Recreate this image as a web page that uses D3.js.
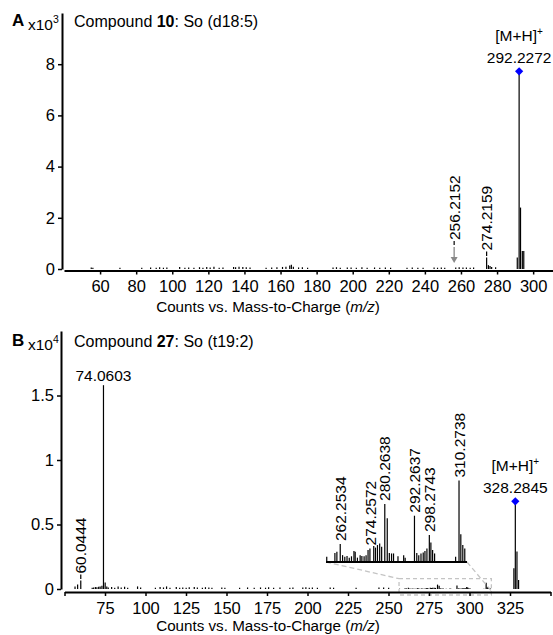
<!DOCTYPE html>
<html>
<head>
<meta charset="utf-8">
<title>MS/MS spectra</title>
<script src="https://cdn.jsdelivr.net/npm/d3@7"></script>
<style>
  body { margin: 0; background: #fff; }
  svg text { font-family: Arial, "Liberation Sans", sans-serif; fill: #000; }
</style>
</head>
<body>
<svg id="chart" width="553" height="635"></svg>
<script>
// ---------- panel A : compound 10, counts x10^3 ----------
var ticksXA = [60, 80, 100, 120, 140, 160, 180, 200, 220, 240, 260, 280, 300];
var ticksYA = [0, 2, 4, 6, 8];
// [m/z, counts x10^3]
var peaksA = [
  [55.1, 0.06], [56.0, 0.05], [71.0, 0.05], [83.1, 0.05], [88.0, 0.06], [91.1, 0.05], [93.0, 0.07], [95.1, 0.05], [97.0, 0.06],
  [104.1, 0.08], [107.0, 0.05], [109.1, 0.06], [112.0, 0.05], [115.1, 0.07], [117.0, 0.05], [119.1, 0.08], [121.0, 0.06], [123.1, 0.09], [126.0, 0.05], [128.1, 0.06],
  [134.0, 0.08], [135.1, 0.07], [137.0, 0.09], [139.1, 0.08], [141.0, 0.07], [143.1, 0.06],
  [152.0, 0.05], [155.1, 0.06], [158.0, 0.07], [161.1, 0.08], [163.0, 0.09], [165.1, 0.14], [166.0, 0.17], [167.1, 0.09], [170.0, 0.06], [172.1, 0.07], [175.0, 0.05],
  [189.1, 0.06], [191.0, 0.07], [193.1, 0.05], [197.0, 0.06], [199.1, 0.06], [202.0, 0.05], [205.1, 0.07], [208.0, 0.05], [212.1, 0.06], [215.0, 0.05], [218.1, 0.06], [221.0, 0.05],
  [230.1, 0.05], [233.0, 0.06], [236.1, 0.05], [239.0, 0.05], [245.1, 0.06], [247.0, 0.05], [249.1, 0.06], [251.0, 0.05],
  [257.1, 0.06], [259.0, 0.07], [261.1, 0.06], [263.0, 0.06], [265.1, 0.05], [267.0, 0.06],
  [274.2159, 0.45], [275.2, 0.15], [276.1, 0.12], [277.0, 0.08], [279.2, 0.07],
  [291.2, 0.45], [292.2272, 7.72], [293.0, 2.4], [294.0, 0.7], [294.8, 0.7]
];
var precursorA = { mz: 292.2272, text: "292.2272" };
var fragLabelsA = [{ mz: 274.2159, text: "274.2159" }];
var arrowLabelsA = [{ mz: 256.2152, text: "256.2152" }];

// ---------- panel B : compound 27, counts x10^4 ----------
var ticksXB = [50, 75, 100, 125, 150, 175, 200, 225, 250, 275, 300, 325, 350];
var tickTextXB = ["", "75", "100", "125", "150", "175", "200", "225", "250", "275", "300", "325", ""];
var ticksYB = [0, 0.5, 1, 1.5];
var tickTextYB = ["0", "0.5", "1", "1.5"];
var peaksB = [
  [56.5, 0.02], [58.1, 0.035], [60.0444, 0.065],
  [67.1, 0.01], [68.0, 0.012], [69.1, 0.015], [70.0, 0.013], [71.1, 0.018], [72.0, 0.02], [73.1, 0.025], [74.0603, 1.58], [75.1, 0.05],
  [76.1, 0.02], [77.0, 0.012], [79.1, 0.015], [81.0, 0.01], [83.1, 0.02], [85.0, 0.012], [87.1, 0.018], [89.0, 0.01],
  [95.1, 0.02], [97.0, 0.012], [106.1, 0.01], [109.0, 0.015], [111.1, 0.012], [113.0, 0.02], [115.1, 0.01],
  [119.0, 0.015], [121.1, 0.01], [123.0, 0.012], [125.1, 0.01], [127.0, 0.013], [130.1, 0.015], [132.0, 0.012],
  [135.1, 0.01], [137.0, 0.014], [139.1, 0.012], [141.0, 0.01], [147.1, 0.012], [149.0, 0.01],
  [158.1, 0.01], [163.0, 0.012], [167.1, 0.01], [171.0, 0.012], [174.1, 0.01], [176.0, 0.013], [179.1, 0.01], [183.0, 0.012],
  [189.1, 0.01], [191.0, 0.012], [197.1, 0.011], [199.0, 0.013], [201.1, 0.01], [203.0, 0.012], [206.1, 0.01],
  [214.0, 0.012], [216.1, 0.01], [230.0, 0.01], [244.1, 0.011], [247.0, 0.012], [250.1, 0.01],
  [327.4, 0.16], [328.2845, 0.68], [329.3, 0.29], [330.3, 0.07]
];
// 256.5-313.5 window, drawn in the plot and magnified in the inset
var zoomDomainB = [256.5, 313.5];
var zoomPeaksB = [
  [256.8, 0.0025], [260.1, 0.0048], [260.9, 0.0055], [262.2534, 0.0101], [263.2, 0.0035], [264.1, 0.0025], [265.0, 0.003],
  [265.9, 0.002], [266.8, 0.0028], [267.8, 0.006], [268.3, 0.0055], [269.2, 0.002], [270.3, 0.0035], [271.0, 0.003],
  [271.9, 0.0028], [272.7, 0.0035], [273.5, 0.0065], [274.2572, 0.0075], [275.8, 0.009], [276.5, 0.008], [277.3, 0.0095],
  [278.2, 0.0105], [279.0, 0.0085], [280.2638, 0.034], [281.26, 0.0255], [282.1, 0.0048], [283.0, 0.0045], [283.8, 0.0045],
  [285.6, 0.0028], [287.9, 0.0035], [288.5, 0.002], [292.2637, 0.027], [293.2, 0.0048], [294.0, 0.0035], [294.9, 0.0045],
  [295.8, 0.005], [296.5, 0.006], [297.3, 0.0075], [298.2743, 0.0155], [298.9, 0.011], [299.6, 0.0065], [300.4, 0.0045],
  [308.9, 0.0025], [310.2738, 0.048], [311.0, 0.016], [311.8, 0.0095], [312.6, 0.0075]
];
var precursorB = { mz: 328.2845, text: "328.2845" };
var baseLabelsB = [{ mz: 74.0603, text: "74.0603" }];
var fragLabelsB = [{ mz: 60.0444, text: "60.0444" }];
var zoomLabelsB = [
  { mz: 262.2534, text: "262.2534" }, { mz: 274.2572, text: "274.2572" }, { mz: 280.2638, text: "280.2638" },
  { mz: 292.2637, text: "292.2637" }, { mz: 298.2743, text: "298.2743" }, { mz: 310.2738, text: "310.2738" }
];

var svg = d3.select("#chart");

function heightAt(peaks, mz) {
  var best = peaks[0];
  peaks.forEach(function(p) { if (Math.abs(p[0] - mz) < Math.abs(best[0] - mz)) best = p; });
  return best[1];
}

function styleAxis(g) {
  g.attr("font-size", 16.5).attr("font-family", null);
  g.select(".domain").attr("stroke-width", 2);
  g.selectAll(".tick line").attr("stroke-width", 1.5);
}

function drawBars(g, peaks, x, y) {
  g.selectAll(null).data(peaks).enter().append("line")
    .attr("x1", function(d) { return x(d[0]); })
    .attr("x2", function(d) { return x(d[0]); })
    .attr("y1", y(0))
    .attr("y2", function(d) { return y(d[1]); })
    .attr("stroke", "#000")
    .attr("stroke-width", 1.2);
}

function rotLabel(g, x, yBottom, text) {
  g.append("text")
    .attr("transform", "translate(" + x + "," + yBottom + ") rotate(-90)")
    .attr("dy", "0.36em")
    .attr("font-size", 15.5)
    .text(text);
}

function precursor(g, x, y, text) {
  g.append("path")
    .attr("d", d3.symbol(d3.symbolSquare, 34)())
    .attr("transform", "translate(" + x + "," + y + ") rotate(45)")
    .attr("fill", "#0000ff");
  g.append("text").attr("x", x).attr("y", y - 8).attr("text-anchor", "middle")
    .attr("font-size", 15.5).text(text);
  var t = g.append("text").attr("x", x).attr("y", y - 30).attr("text-anchor", "middle")
    .attr("font-size", 15.5).text("[M+H]");
  t.append("tspan").attr("font-size", 10).attr("dy", -6).text("+");
}

function header(g, letter, exp, yBase, num, rest) {
  g.append("text").attr("x", 12).attr("y", yBase - 1).attr("font-size", 17)
    .attr("font-weight", "bold").text(letter);
  var t = g.append("text").attr("x", 28).attr("y", yBase + 3).attr("font-size", 15.5).text("x10");
  t.append("tspan").attr("font-size", 10.5).attr("dy", -7).text(exp);
  var c = g.append("text").attr("x", 74).attr("y", yBase).attr("font-size", 16).text("Compound ");
  c.append("tspan").attr("font-weight", "bold").text(num);
  c.append("tspan").text(rest);
}

function xTitle(g, yBase) {
  var t = g.append("text").attr("x", 268).attr("y", yBase).attr("text-anchor", "middle")
    .attr("font-size", 15.2).text("Counts vs. Mass-to-Charge (");
  t.append("tspan").attr("font-style", "italic").text("m/z");
  t.append("tspan").text(")");
}

// ================= Panel A =================
var xA = d3.scaleLinear().domain([40, 311]).range([64, 553]);
var yA = d3.scaleLinear().domain([0, 10]).range([269, 13]);
var gA = svg.append("g");

drawBars(gA.append("g"), peaksA, xA, yA);

gA.append("g").attr("transform", "translate(0," + (yA(0) + 1.5) + ")")
  .call(d3.axisBottom(xA).tickValues(ticksXA).tickSize(4).tickSizeOuter(0).tickPadding(6))
  .call(styleAxis);
gA.append("g").attr("transform", "translate(62,0)")
  .call(d3.axisLeft(yA).tickValues(ticksYA).tickSize(4).tickSizeOuter(0).tickPadding(3))
  .call(styleAxis);

precursor(gA, xA(precursorA.mz), yA(heightAt(peaksA, precursorA.mz)), precursorA.text);

fragLabelsA.forEach(function(l) {
  var top = yA(heightAt(peaksA, l.mz));
  var x = xA(l.mz);
  gA.append("line").attr("x1", x).attr("x2", x).attr("y1", top - 1.5).attr("y2", top - 6)
    .attr("stroke", "#000").attr("stroke-width", 1.2);
  rotLabel(gA, x, top - 7, l.text);
});

arrowLabelsA.forEach(function(l) {
  var x = xA(l.mz), tip = yA(0) - 6, tail = yA(0) - 22;
  gA.append("line").attr("x1", x).attr("x2", x).attr("y1", tail).attr("y2", tip - 4)
    .attr("stroke", "#888").attr("stroke-width", 1.3);
  gA.append("path").attr("d", "M" + (x - 3.5) + "," + (tip - 6) + "L" + (x + 3.5) + "," + (tip - 6) + "L" + x + "," + tip + "Z")
    .attr("fill", "#888");
  gA.append("line").attr("x1", x).attr("x2", x).attr("y1", tail - 2).attr("y2", tail - 6)
    .attr("stroke", "#000").attr("stroke-width", 1.2);
  rotLabel(gA, x, tail - 7, l.text);
});

header(gA, "A", "3", 27, "10", ": So (d18:5)");
xTitle(gA, 312);

// ================= Panel B =================
var xB = d3.scaleLinear().domain([50, 350]).range([64.5, 550.5]);
var yB = d3.scaleLinear().domain([0, 2]).range([589, 331]);
var gB = svg.append("g");

drawBars(gB.append("g"), peaksB.concat(zoomPeaksB), xB, yB);

// zoom window marker in the plot
var zx0 = xB(zoomDomainB[0]), zx1 = xB(zoomDomainB[1]);
var zy0 = yB(0.08), zy1 = yB(0) + 6;
gB.append("rect").attr("x", zx0).attr("y", zy0).attr("width", zx1 - zx0).attr("height", zy1 - zy0)
  .attr("fill", "none").attr("stroke", "#c4c4c4").attr("stroke-width", 1.3).attr("stroke-dasharray", "4,3");

// inset
var xI = d3.scaleLinear().domain(zoomDomainB).range([326, 467]);
var yI = d3.scaleLinear().domain([0, 0.1]).range([561, 561 - 167.7]);
gB.append("line").attr("x1", xI.range()[0]).attr("x2", zx0).attr("y1", yI(0) + 1).attr("y2", zy0)
  .attr("stroke", "#c4c4c4").attr("stroke-width", 1.3).attr("stroke-dasharray", "5,3");
gB.append("line").attr("x1", xI.range()[1]).attr("x2", zx1).attr("y1", yI(0) + 1).attr("y2", zy1 - 4)
  .attr("stroke", "#c4c4c4").attr("stroke-width", 1.3).attr("stroke-dasharray", "5,3");
drawBars(gB.append("g"), zoomPeaksB, xI, yI);
gB.append("line").attr("x1", xI.range()[0]).attr("x2", xI.range()[1]).attr("y1", yI(0) + 1).attr("y2", yI(0) + 1)
  .attr("stroke", "#000").attr("stroke-width", 2.2);
zoomLabelsB.forEach(function(l) {
  rotLabel(gB, xI(l.mz), yI(heightAt(zoomPeaksB, l.mz)) - 3, l.text);
});

gB.append("g").attr("transform", "translate(0," + (yB(0) + 3) + ")")
  .call(d3.axisBottom(xB).tickValues(ticksXB).tickFormat(function(d, i) { return tickTextXB[i]; })
    .tickSize(4).tickSizeOuter(0).tickPadding(6))
  .call(styleAxis);
gB.append("g").attr("transform", "translate(61,0)")
  .call(d3.axisLeft(yB).tickValues(ticksYB).tickFormat(function(d, i) { return tickTextYB[i]; })
    .tickSize(4).tickSizeOuter(0).tickPadding(3))
  .call(styleAxis);

baseLabelsB.forEach(function(l) {
  gB.append("text").attr("x", xB(l.mz)).attr("y", yB(heightAt(peaksB, l.mz)) - 4)
    .attr("text-anchor", "middle").attr("font-size", 15.5).text(l.text);
});
fragLabelsB.forEach(function(l) {
  var top = yB(heightAt(peaksB, l.mz));
  var x = xB(l.mz);
  gB.append("line").attr("x1", x).attr("x2", x).attr("y1", top - 1.5).attr("y2", top - 6)
    .attr("stroke", "#000").attr("stroke-width", 1.2);
  rotLabel(gB, x, top - 7, l.text);
});

precursor(gB, xB(precursorB.mz), yB(heightAt(peaksB, precursorB.mz)), precursorB.text);

header(gB, "B", "4", 347, "27", ": So (t19:2)");
xTitle(gB, 631);
</script>
</body>
</html>
